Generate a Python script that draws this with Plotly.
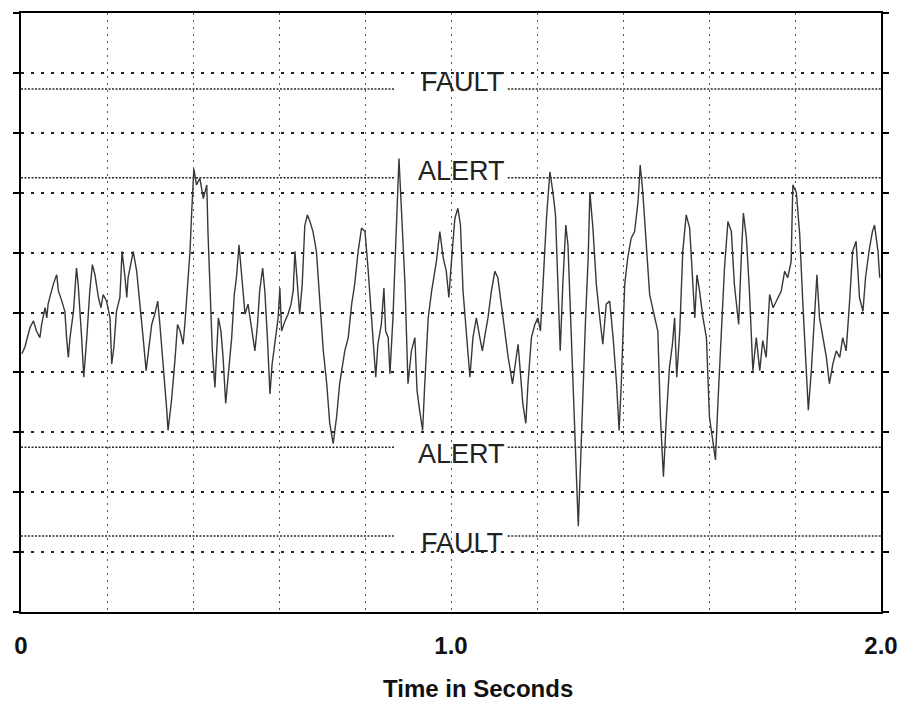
import plotly.graph_objects as go

# ---- data (time in s, amplitude in grid units) ----
time_s = [
    0.002, 0.009, 0.021, 0.029, 0.036, 0.044, 0.048, 0.056, 0.060, 0.063,
    0.071, 0.075, 0.083, 0.087, 0.095, 0.102, 0.106, 0.110, 0.114, 0.122,
    0.129, 0.133, 0.141, 0.146, 0.153, 0.160, 0.166, 0.172, 0.180, 0.186,
    0.191, 0.199, 0.207, 0.211, 0.216, 0.222, 0.230, 0.235, 0.242, 0.246,
    0.249, 0.261, 0.269, 0.277, 0.284, 0.291, 0.296, 0.304, 0.311, 0.318,
    0.323, 0.331, 0.339, 0.342, 0.350, 0.358, 0.364, 0.370, 0.377, 0.381,
    0.387, 0.393, 0.397, 0.402, 0.408, 0.416, 0.424, 0.432, 0.435, 0.439,
    0.445, 0.451, 0.455, 0.459, 0.465, 0.470, 0.476, 0.482, 0.490, 0.496,
    0.501, 0.507, 0.513, 0.521, 0.528, 0.536, 0.544, 0.550, 0.555, 0.562,
    0.567, 0.573, 0.579, 0.584, 0.590, 0.598, 0.602, 0.606, 0.614, 0.621,
    0.628, 0.633, 0.637, 0.643, 0.648, 0.654, 0.660, 0.666, 0.672, 0.679,
    0.687, 0.695, 0.703, 0.711, 0.718, 0.726, 0.734, 0.741, 0.753, 0.761,
    0.769, 0.776, 0.784, 0.792, 0.800, 0.807, 0.815, 0.820, 0.825, 0.830,
    0.838, 0.844, 0.848, 0.854, 0.858, 0.865, 0.873, 0.879, 0.885, 0.893,
    0.900, 0.908, 0.916, 0.921, 0.927, 0.934, 0.939, 0.947, 0.955, 0.966,
    0.974, 0.982, 0.989, 0.995, 1.001, 1.009, 1.016, 1.022, 1.028, 1.036,
    1.044, 1.051, 1.059, 1.067, 1.073, 1.078, 1.086, 1.094, 1.102, 1.109,
    1.117, 1.125, 1.133, 1.143, 1.150, 1.156, 1.161, 1.167, 1.174, 1.179,
    1.187, 1.195, 1.202, 1.208, 1.214, 1.222, 1.230, 1.237, 1.243, 1.249,
    1.254, 1.260, 1.267, 1.272, 1.278, 1.284, 1.290, 1.296, 1.301, 1.307,
    1.313, 1.319, 1.323, 1.330, 1.338, 1.346, 1.353, 1.361, 1.369, 1.377,
    1.385, 1.391, 1.396, 1.404, 1.411, 1.419, 1.427, 1.435, 1.440, 1.446,
    1.454, 1.462, 1.474, 1.481, 1.487, 1.494, 1.501, 1.508, 1.515, 1.520,
    1.525, 1.532, 1.539, 1.547, 1.555, 1.563, 1.567, 1.572, 1.578, 1.586,
    1.594, 1.601, 1.609, 1.615, 1.621, 1.629, 1.636, 1.644, 1.652, 1.659,
    1.669, 1.675, 1.680, 1.687, 1.694, 1.702, 1.710, 1.718, 1.725, 1.733,
    1.741, 1.749, 1.756, 1.768, 1.776, 1.783, 1.791, 1.795, 1.803, 1.811,
    1.818, 1.826, 1.831, 1.838, 1.845, 1.851, 1.857, 1.865, 1.873, 1.880,
    1.888, 1.896, 1.904, 1.911, 1.919, 1.927, 1.934, 1.942, 1.950, 1.958,
    1.964, 1.972, 1.980, 1.985, 1.993, 1.997,
]
amplitude = [
    -0.69, -0.58, -0.25, -0.14, -0.31, -0.42, -0.20, 0.08, -0.09, 0.14,
    0.36, 0.47, 0.63, 0.36, 0.19, 0.02, -0.42, -0.75, -0.42, 0.02,
    0.74, 0.47, -0.42, -1.08, -0.42, 0.36, 0.80, 0.63, 0.25, 0.08,
    0.30, 0.19, -0.09, -0.86, -0.58, 0.02, 0.25, 1.02, 0.58, 0.25,
    0.58, 1.02, 0.69, 0.14, -0.42, -0.97, -0.64, -0.20, -0.03, 0.19,
    -0.20, -0.86, -1.63, -1.97, -1.47, -0.80, -0.20, -0.31, -0.53, -0.20,
    0.47, 1.02, 1.68, 2.40, 2.13, 2.24, 1.90, 2.13, 1.30, 0.47,
    -0.64, -1.25, -0.64, -0.09, -0.31, -0.75, -1.52, -1.08, -0.42, 0.30,
    0.58, 1.13, 0.58, -0.03, 0.14, -0.25, -0.64, -0.20, 0.36, 0.74,
    0.36, -0.42, -1.36, -0.86, -0.53, -0.09, 0.41, -0.31, -0.14, -0.03,
    0.14, 0.36, 1.02, 0.36, -0.03, 0.47, 1.45, 1.63, 1.52, 1.35,
    1.02, 0.19, -0.64, -1.19, -1.85, -2.19, -1.74, -1.19, -0.64, -0.42,
    0.14, 0.47, 1.02, 1.41, 1.35, 0.74, -0.09, -0.64, -1.08, -0.53,
    -0.20, 0.41, -0.31, -0.42, -1.02, -0.09, 1.57, 2.57, 1.68, 0.47,
    -1.19, -0.64, -0.42, -1.30, -1.63, -1.97, -1.19, -0.09, 0.36, 0.85,
    1.35, 0.91, 0.69, 0.25, 0.85, 1.57, 1.74, 1.46, 0.36, -0.42,
    -1.08, -0.42, -0.09, -0.42, -0.64, -0.42, -0.09, 0.36, 0.69, 0.58,
    0.14, -0.36, -0.75, -1.19, -0.86, -0.53, -0.97, -1.52, -1.85, -1.19,
    -0.42, -0.20, -0.09, -0.31, 0.47, 1.57, 2.35, 2.01, 1.63, 0.47,
    -0.64, 0.47, 1.46, 1.13, -0.09, -1.19, -2.19, -3.57, -2.57, -1.19,
    -0.09, 0.91, 2.01, 1.41, 0.47, -0.09, -0.53, 0.14, 0.19, -0.42,
    -1.19, -1.97, -1.19, 0.47, 0.91, 1.24, 1.35, 1.85, 2.46, 2.01,
    1.13, 0.30, -0.09, -0.31, -1.74, -2.74, -1.74, -0.92, -0.53, -0.09,
    -1.08, -0.31, 1.02, 1.63, 1.41, 0.47, -0.09, 0.63, 0.36, -0.09,
    -0.42, -1.74, -2.19, -2.46, -1.47, -0.31, 0.74, 1.52, 1.35, 0.47,
    -0.20, 0.91, 1.66, 1.24, 0.36, -0.97, -0.42, -0.97, -0.47, -0.75,
    0.30, 0.08, 0.19, 0.36, 0.69, 0.58, 0.85, 2.13, 2.01, 1.30,
    0.19, -0.97, -1.63, -0.97, -0.20, 0.63, -0.09, -0.42, -0.75, -1.19,
    -0.86, -0.64, -0.75, -0.42, -0.64, 0.19, 1.02, 1.19, 0.25, 0.02,
    0.58, 1.02, 1.35, 1.46, 1.02, 0.58,
]

threshold_names = ["FAULT", "ALERT", "ALERT", "FAULT"]
threshold_levels = [3.73, 2.25, -2.25, -3.73]
label_gap = [0.869, 1.132]   # time span left open for the labels
x_range = [0.0, 2.0]
x_ticks = [0.0, 0.2, 0.4, 0.6, 0.8, 1.0, 1.2, 1.4, 1.6, 1.8, 2.0]
x_tick_text = ["0", "", "", "", "", "1.0", "", "", "", "", "2.0"]
y_range = [-5, 5]

fig = go.Figure()

# threshold lines (two segments each, gap around the text)
for name, lvl in zip(threshold_names, threshold_levels):
    fig.add_trace(go.Scatter(
        x=[x_range[0], label_gap[0], None, label_gap[1], x_range[1]],
        y=[lvl, lvl, None, lvl, lvl],
        mode="lines",
        line=dict(color="#2a2a2a", width=1.6, dash="2px,1.5px"),
        hoverinfo="skip", showlegend=False,
    ))

# vibration signal
fig.add_trace(go.Scatter(
    x=time_s, y=amplitude, mode="lines",
    line=dict(color="#383838", width=1.4),
    showlegend=False,
))

for name, lvl in zip(threshold_names, threshold_levels):
    fig.add_annotation(
        x=1.025, y=lvl, xref="x", yref="y",
        text=name, showarrow=False,
        yshift=7 if lvl > 0 else -7,
        font=dict(family="Liberation Sans, Arial, sans-serif", size=27, color="#222"),
    )

fig.add_annotation(
    x=0.531, y=-0.154, xref="paper", yref="paper",
    text="Time in Seconds", showarrow=False,
    font=dict(family="Liberation Sans, Arial, sans-serif", size=24, color="#111", weight="bold"),
)

fig.update_layout(
    width=909, height=702,
    margin=dict(l=21, r=28, t=11, b=90),
    paper_bgcolor="white", plot_bgcolor="white",
    showlegend=False,
)
fig.update_xaxes(
    range=x_range, tickvals=x_ticks, ticktext=x_tick_text,
    showgrid=True, gridcolor="#555", gridwidth=1.2, griddash="2px,5px",
    zeroline=False, showline=True, linecolor="black", linewidth=2, mirror=True,
    ticks="", ticklabelstandoff=11,
    tickfont=dict(family="Liberation Sans, Arial, sans-serif", size=24, color="#111", weight="bold"),
)
fig.update_yaxes(
    range=y_range, dtick=1, showticklabels=False,
    showgrid=True, gridcolor="#222", gridwidth=2, griddash="3px,7px",
    zeroline=False, showline=True, linecolor="black", linewidth=2, mirror="ticks",
    ticks="outside", ticklen=6, tickwidth=2, tickcolor="black",
)

fig.write_html("out.html")
